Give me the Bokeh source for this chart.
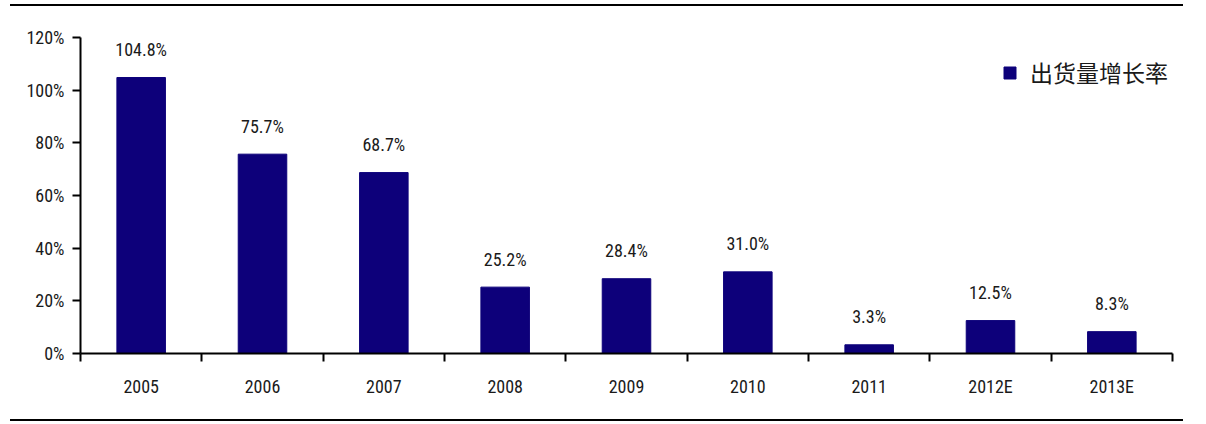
from bokeh.plotting import figure
from bokeh.models import (ColumnDataSource, Range1d, FixedTicker, PrintfTickFormatter,
                          Legend, LegendItem, Div)
from bokeh.layouts import column
from bokeh.core.properties import value
from bokeh.embed import file_html
from bokeh.resources import INLINE

categories = ["2005", "2006", "2007", "2008", "2009", "2010", "2011", "2012E", "2013E"]
growth = [104.8, 75.7, 68.7, 25.2, 28.4, 31.0, 3.3, 12.5, 8.3]
y_ticks = [0, 20, 40, 60, 80, 100, 120]
series_name = "出货量增长率"

NARROW = "Liberation Sans Narrow, Arial Narrow, Roboto Condensed, Liberation Sans"
BAR = "#0D007A"
TXT = "#1a1a1a"

xs = [i + 0.5 for i in range(len(categories))]
src = ColumnDataSource(dict(x=xs, top=growth, label=[f"{v:.1f}%" for v in growth]))

p = figure(width=1173, height=413, output_backend="svg", toolbar_location=None,
           x_range=Range1d(0, len(categories)), y_range=Range1d(0, 120),
           min_border_left=70, min_border_right=11, min_border_top=31, min_border_bottom=66,
           margin=0)
p.outline_line_color = None
p.grid.visible = False
p.background_fill_color = "white"
p.border_fill_color = "white"

r = p.vbar(x="x", top="top", width=0.4, bottom=0, source=src, fill_color=BAR, line_color=BAR)
p.text(x="x", y="top", text="label", source=src, text_align="center", text_baseline="alphabetic",
       y_offset=-28, text_font=value(NARROW), text_font_size="18px", text_color=TXT)

xa = p.xaxis[0]
xa.ticker = FixedTicker(ticks=xs, minor_ticks=list(range(len(categories) + 1)))
xa.major_label_overrides = {x: c for x, c in zip(xs, categories)}
xa.major_tick_out = 0
xa.major_tick_in = 0
xa.minor_tick_out = 8
xa.minor_tick_in = 0
xa.minor_tick_line_width = 2
xa.minor_tick_line_color = "black"
xa.axis_line_width = 2
xa.axis_line_color = "black"
xa.major_label_standoff = 14
xa.major_label_text_font = NARROW
xa.major_label_text_font_size = "18px"
xa.major_label_text_color = TXT

ya = p.yaxis[0]
ya.ticker = FixedTicker(ticks=y_ticks, minor_ticks=[])
ya.formatter = PrintfTickFormatter(format="%d%%")
ya.major_tick_out = 8
ya.major_tick_in = 0
ya.major_tick_line_width = 2
ya.axis_line_width = 2
ya.axis_line_color = "black"
ya.major_tick_line_color = "black"
ya.major_label_standoff = 8
ya.major_label_text_font = NARROW
ya.major_label_text_font_size = "18px"
ya.major_label_text_color = TXT

legend = Legend(items=[LegendItem(label=series_name, renderers=[r])],
                location=(922, 264), orientation="vertical",
                glyph_width=15, glyph_height=15, label_standoff=13,
                label_text_font="Noto Sans CJK SC", label_text_font_size="23px",
                label_text_color=TXT, padding=0, margin=0, border_line_color=None,
                background_fill_alpha=0)
p.add_layout(legend)

top_line = Div(width=1173, height=2, margin=0, styles={"background-color": "black"})
bot_line = Div(width=1173, height=2, margin=0, styles={"background-color": "black"})
layout = column(top_line, p, bot_line, spacing=0, margin=(4, 0, 0, 10))

open("out.html", "w").write(file_html(layout, INLINE))
